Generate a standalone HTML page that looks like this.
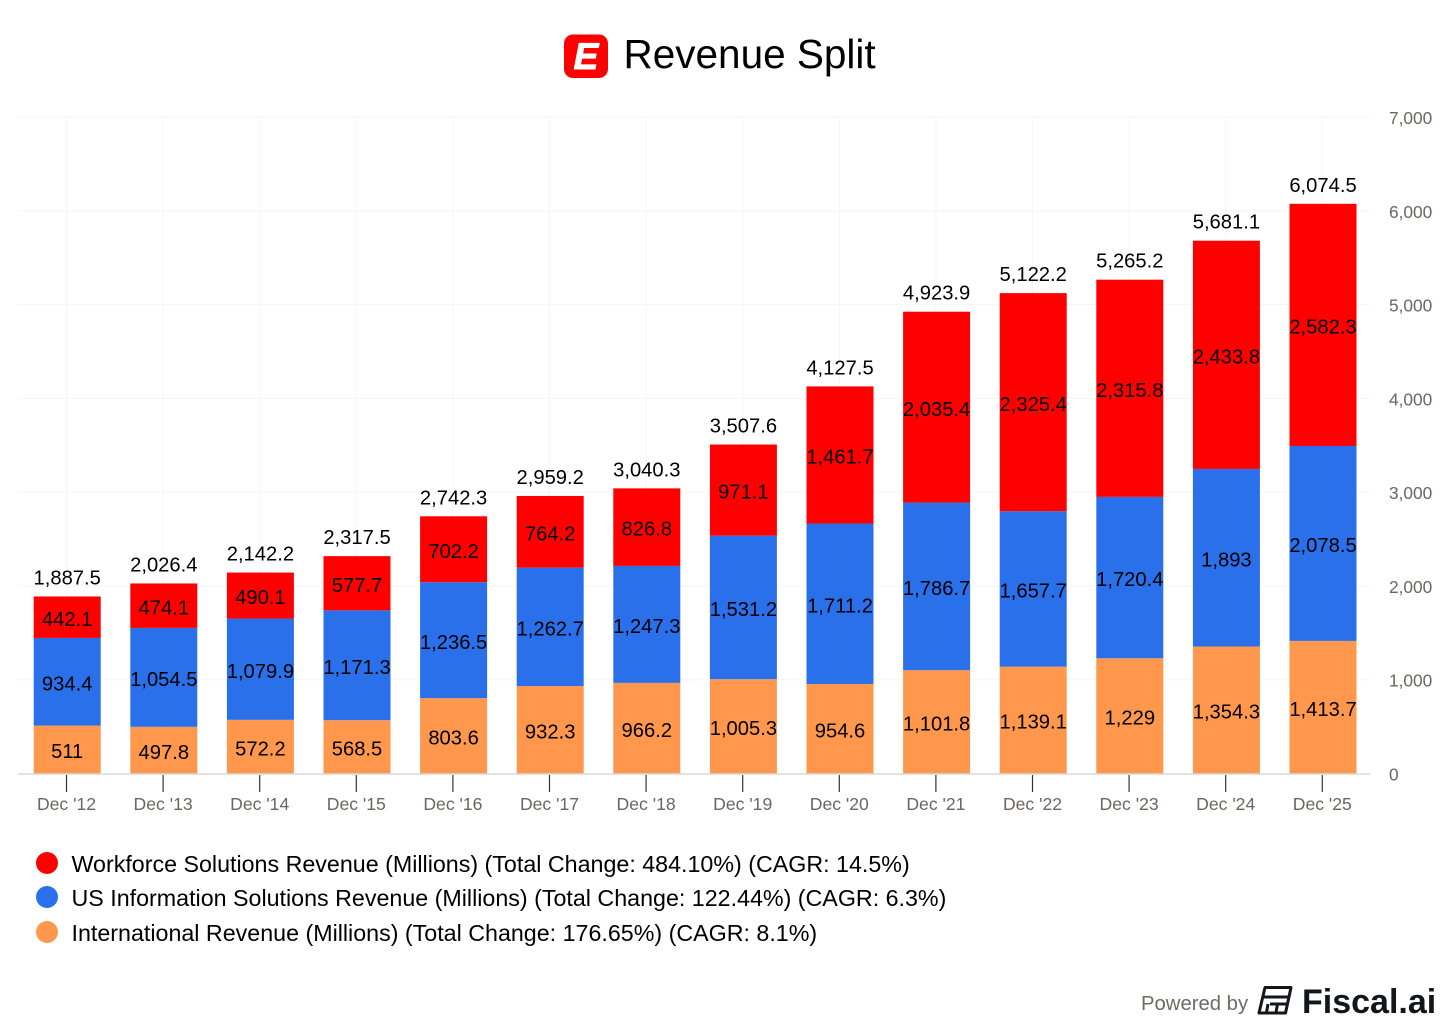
<!DOCTYPE html>
<html>
<head>
<meta charset="utf-8">
<title>Revenue Split</title>
<style>
html,body{margin:0;padding:0;background:#fff;width:1456px;height:1032px;overflow:hidden}
svg{display:block;font-family:"Liberation Sans",Arial,sans-serif}
</style>
</head>
<body>
<svg id="chart" width="1456" height="1032" viewBox="0 0 1456 1032" xmlns="http://www.w3.org/2000/svg">
  <rect width="1456" height="1032" fill="#ffffff"/>
  <g>
    <rect x="564" y="34.5" width="44" height="43.5" rx="9" fill="#ff0000"/>
    <text x="586" y="69" text-anchor="middle" font-size="37" font-weight="bold" font-style="italic" fill="#ffffff" stroke="#ffffff" stroke-width="1">E</text>
    <text x="623.5" y="68" font-size="40.5" fill="#000000">Revenue Split</text>
  </g>
  <g id="grid"></g>
  <g id="bars"></g>
  <g id="axis"></g>
  <g id="labels"></g>
  <g font-size="23.25" fill="#000000">
    <g>
      <circle cx="47" cy="863" r="11" fill="#ff0000"/>
      <text x="71.5" y="872">Workforce Solutions Revenue (Millions) (Total Change: 484.10%) (CAGR: 14.5%)</text>
    </g>
    <g>
      <circle cx="47" cy="897" r="11" fill="#2a70ea"/>
      <text x="71.5" y="906">US Information Solutions Revenue (Millions) (Total Change: 122.44%) (CAGR: 6.3%)</text>
    </g>
    <g>
      <circle cx="47" cy="932" r="11" fill="#ff974d"/>
      <text x="71.5" y="941">International Revenue (Millions) (Total Change: 176.65%) (CAGR: 8.1%)</text>
    </g>
  </g>
  <g>
    <text x="1141" y="1010" font-size="20.3" fill="#6f6a64">Powered by</text>
    <g fill="none" stroke="#14161c" stroke-width="3">
      <path d="M1265 987.5h26l-5.500 25.500h-26.500z" stroke-linejoin="round"/>
      <path d="M1262.500 997h26.500M1270 1004h16M1268 1004l-1.500 8.500M1277.500 1004l-1.500 8.500"/>
    </g>
    <text x="1302" y="1013" font-size="34" font-weight="bold" fill="#14161c">Fiscal.ai</text>
  </g>
</svg>
<script>
var categories = ["Dec '12","Dec '13","Dec '14","Dec '15","Dec '16","Dec '17","Dec '18","Dec '19","Dec '20","Dec '21","Dec '22","Dec '23","Dec '24","Dec '25"];
var international = [511,497.8,572.2,568.5,803.6,932.3,966.2,1005.3,954.6,1101.8,1139.1,1229,1354.3,1413.7];
var usInformation = [934.4,1054.5,1079.9,1171.3,1236.5,1262.7,1247.3,1531.2,1711.2,1786.7,1657.7,1720.4,1893,2078.5];
var workforce = [442.1,474.1,490.1,577.7,702.2,764.2,826.8,971.1,1461.7,2035.4,2325.4,2315.8,2433.8,2582.3];
var totals = [1887.5,2026.4,2142.2,2317.5,2742.3,2959.2,3040.3,3507.6,4127.5,4923.9,5122.2,5265.2,5681.1,6074.5];
var yTicks = [0,1000,2000,3000,4000,5000,6000,7000];

var NS = 'http://www.w3.org/2000/svg';
var plotLeft = 18, plotRight = 1370, plotBottom = 773.5, plotTop = 117;
var firstCenter = 66.5, step = 96.6, barWidth = 67;

function yScale(v){ return plotBottom - (v / 7000) * (plotBottom - plotTop); }
function xScale(i){ return firstCenter + i * step; }
function fmt(v){ return v.toLocaleString('en-US', {maximumFractionDigits: 1}); }
function make(parent, tag, attrs, text){
  var el = document.createElementNS(NS, tag);
  for (var k in attrs) el.setAttribute(k, attrs[k]);
  if (text !== undefined) el.textContent = text;
  parent.appendChild(el);
  return el;
}

var grid = document.getElementById('grid');
var barsG = document.getElementById('bars');
var axis = document.getElementById('axis');
var labels = document.getElementById('labels');

yTicks.forEach(function(t){
  var y = yScale(t);
  if (t > 0) {
    var gl = make(grid, 'line', {x1: plotLeft, x2: plotRight, y1: y, y2: y, stroke: '#f5f5f5', 'stroke-width': 1});
    
    
  }
  var tl = make(axis, 'text', {x: 1389, y: y + 7, 'font-size': 17.3, fill: '#6b665f'}, fmt(t));
  
  
});

var seriesList = [
  {name: 'international', values: international, fill: '#ff974d'},
  {name: 'us-information', values: usInformation, fill: '#2a70ea'},
  {name: 'workforce', values: workforce, fill: '#ff0000'}
];

categories.forEach(function(cat, i){
  var cx = xScale(i);
  var vg = make(grid, 'line', {x1: cx, x2: cx, y1: plotTop, y2: plotBottom, stroke: '#f5f5f5', 'stroke-width': 1});
  
  

  var base = 0;
  seriesList.forEach(function(s){
    var v = s.values[i];
    var yTop = yScale(base + v);
    var yBot = yScale(base);
    var r = make(barsG, 'rect', {x: cx + 0.7 - barWidth / 2, y: yTop, width: barWidth, height: yBot - yTop, fill: s.fill});
    
    
    var lb = make(labels, 'text', {x: cx + 0.7, y: (yTop + yBot) / 2 + 8.6, 'text-anchor': 'middle', 'font-size': 20.2, fill: '#000000'}, fmt(v));
    
    
    base += v;
  });

  var tv = make(labels, 'text', {x: cx + 0.7, y: yScale(base) - 12, 'text-anchor': 'middle', 'font-size': 20.2, fill: '#000000'}, fmt(totals[i]));
  
  

  var tk = make(axis, 'line', {x1: cx, x2: cx, y1: 775, y2: 792, stroke: '#333333', 'stroke-width': 1.2});
  
  
  var xl = make(axis, 'text', {x: cx, y: 810, 'text-anchor': 'middle', 'font-size': 17.6, fill: '#6b665f'}, cat);
  
  
});

var axisLine = make(axis, 'line', {x1: plotLeft, x2: plotRight, y1: 774, y2: 774, stroke: '#d9d9d9', 'stroke-width': 1.5});


</script>
</body>
</html>
